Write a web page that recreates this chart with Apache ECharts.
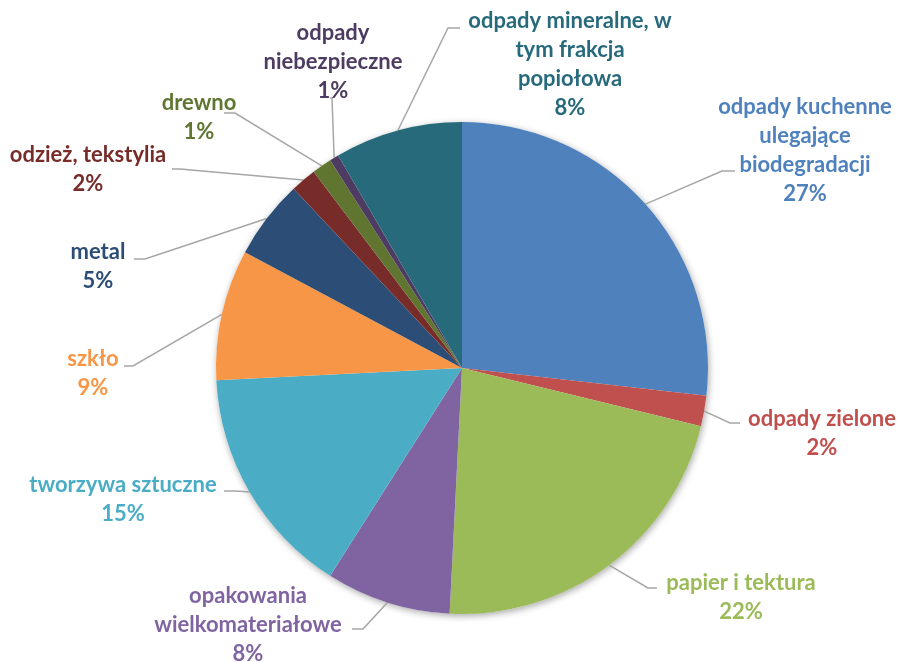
<!DOCTYPE html>
<html><head><meta charset="utf-8">
<script src="https://cdn.jsdelivr.net/npm/echarts@6/dist/echarts.min.js"></script>
<style>html,body{margin:0;padding:0;background:#fff}#c{width:899px;height:662px}</style>
</head><body><div id="c"></div>
<script>
// Categories (clockwise from 12 o'clock)
const categories = [
  'odpady kuchenne\nulegające\nbiodegradacji',
  'odpady zielone',
  'papier i tektura',
  'opakowania\nwielkomateriałowe',
  'tworzywa sztuczne',
  'szkło',
  'metal',
  'odzież, tekstylia',
  'drewno',
  'odpady\nniebezpieczne',
  'odpady mineralne, w\ntym frakcja\npopiołowa'
];
// Shares (%)
const values = [26.8, 2.0, 22.0, 8.2, 15.2, 8.6, 5.2, 1.7, 1.3, 0.6, 8.4];
const colors = ['#4F81BD','#C0504D','#9BBB59','#8064A2','#4BACC6','#F79646','#2C4D75','#772C2A','#5F7530','#4D3B62','#276A7C'];

// Label layout (label block centres and leader elbows) — layout only
const labelCenters = [[805,150],[822,433],[741,597],[248,625],[123,499],[93,373],[98,266],[88,169],[199,117],[333,62],[570,64]];
const leaderBends = [
  [[722,171],[735,171]],
  [[730,423],[740,423]],
  [[648,588],[657,588]],
  [[363,629],[352,629]],
  [[236,491],[224,491]],
  [[133,366],[124,366]],
  [[145,259],[134,259]],
  [[180,169],[172,169]],
  [[235,113],[224,113]],
  [[332,98],[330,98]],
  [[448,28],[460,28]]
];

const CENTER = [462, 368], R = 246;
const total = values.reduce((a, b) => a + b, 0);

const chart = echarts.init(document.getElementById('c'), null, {renderer: 'canvas'});
chart.setOption({
  animation: false,
  backgroundColor: '#ffffff',
  series: [
    {
      type: 'pie', silent: true, z: 1,
      center: CENTER, radius: R,
      label: {show: false}, labelLine: {show: false},
      itemStyle: {color: '#ffffff', shadowBlur: 7, shadowColor: 'rgba(0,0,0,0.35)', shadowOffsetX: 1, shadowOffsetY: 2},
      data: [{value: total, name: ''}]
    },
    {
      type: 'pie', z: 2,
      center: CENTER, radius: R,
      startAngle: 90, clockwise: true,
      avoidLabelOverlap: false,
      itemStyle: {borderWidth: 0},
      label: {
        show: true, position: 'outside',
        fontFamily: 'Lato', fontWeight: 'bold', fontSize: 22, lineHeight: 29,
        align: 'center',
        formatter: p => p.name + '\n' + Math.round(p.percent) + '%'
      },
      labelLine: {show: true, lineStyle: {color: '#A6A6A6', width: 1.5}},
      labelLayout: function (p) {
        const i = p.dataIndex;
        const c = labelCenters[i], lb = leaderBends[i];
        let start;
        if (p.labelLinePoints && p.labelLinePoints[0]) {
          start = p.labelLinePoints[0];
        } else {
          let cum = 0;
          for (let k = 0; k < i; k++) cum += values[k];
          const a = (cum + values[i] / 2) / total * 2 * Math.PI;
          start = [CENTER[0] + R * Math.sin(a), CENTER[1] - R * Math.cos(a)];
        }
        return {x: c[0], y: c[1], align: 'center', verticalAlign: 'middle', labelLinePoints: [start, lb[0], lb[1]]};
      },
      data: categories.map((n, i) => ({
        name: n, value: values[i],
        itemStyle: {color: colors[i]},
        label: {color: colors[i]}
      }))
    }
  ]
});
</script>
</body></html>
